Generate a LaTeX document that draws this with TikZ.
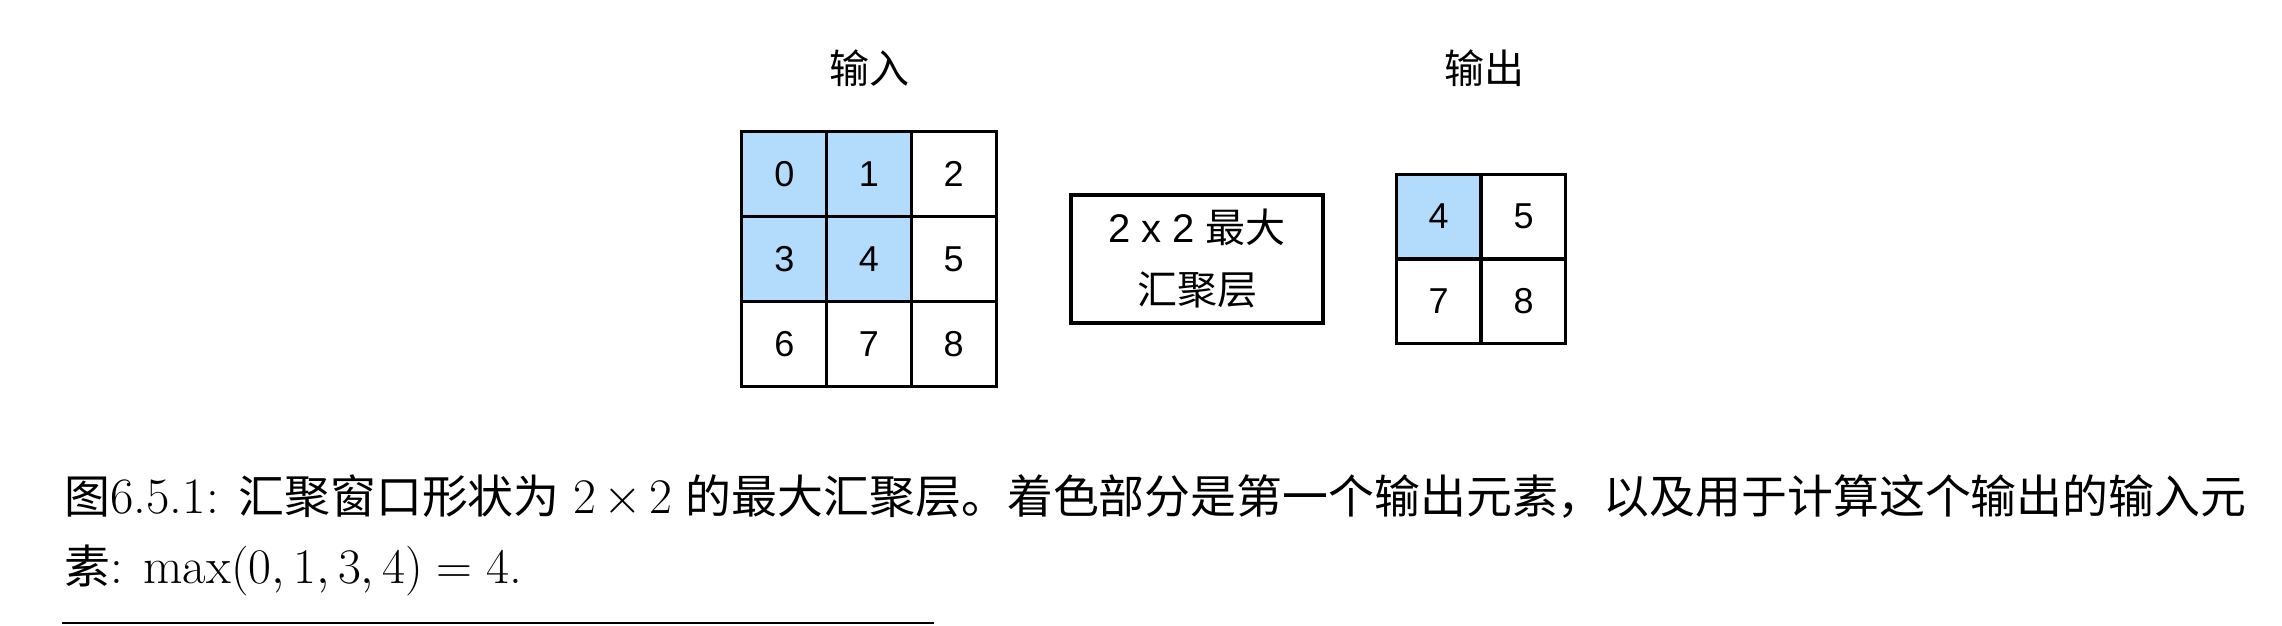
\documentclass[tikz,border=0pt]{standalone}
\usepackage{fontspec}
\newfontfamily\diagsans{Liberation Sans}
\newfontfamily\diagcjk{Noto Sans CJK SC}
\newfontfamily\capcjk{Noto Sans CJK SC}[Scale=0.9]
\definecolor{poolblue}{RGB}{179,219,251}
\tikzset{
  cell/.style={draw=black, line width=1.5pt, minimum size=42.4pt, inner sep=0pt, font=\diagsans\fontsize{18}{20}\selectfont},
  sel/.style={fill=poolblue},
  poolbox/.style={draw=black, line width=1.6pt, minimum width=126pt, minimum height=64pt, align=center, inner sep=0pt, font=\diagsans\fontsize{20}{31}\selectfont},
  heading/.style={font=\diagcjk\fontsize{20}{24}\selectfont},
  caption/.style={anchor=base west, inner sep=0pt, font=\fontsize{25.5}{30}\selectfont},
}
\begin{document}
\begin{tikzpicture}[x=0.5pt,y=-0.5pt]
\useasboundingbox (0,0) rectangle (2282,626);
% input 3x3
\node[cell,sel] (i0) at (784.3,174.3) {0};
\node[cell,sel] (i1) at (869,174.3) {1};
\node[cell] (i2) at (953.7,174.3) {2};
\node[cell,sel] (i3) at (784.3,259) {3};
\node[cell,sel] (i4) at (869,259) {4};
\node[cell] (i5) at (953.7,259) {5};
\node[cell] (i6) at (784.3,343.7) {6};
\node[cell] (i7) at (869,343.7) {7};
\node[cell] (i8) at (953.7,343.7) {8};
% output 2x2
\node[cell,sel] (o4) at (1438.5,216.5) {4};
\node[cell] (o5) at (1523.5,216.5) {5};
\node[cell] (o7) at (1438.5,301.5) {7};
\node[cell] (o8) at (1523.5,301.5) {8};
% pooling box
\node[poolbox] (pool) at (1197,259) {2 x 2 {\diagcjk 最大}\\ {\diagcjk 汇聚层}};
% headings
\node[heading] (inlab) at (869,68) {输入};
\node[heading] (outlab) at (1484,68) {输出};
% caption
\node[caption] (cap1) at (64,513) {\makebox[1091pt][s]{{\capcjk 图}6.5.1: {\capcjk 汇聚窗口形状为} $2\times 2$ {\capcjk 的最大汇聚层。着色部分是第一个输出元素，以及用于计算这个输出的输入元}}};
\node[caption] (cap2) at (64,583) {{\capcjk 素}: $\max(0,1,3,4)=4$.};
\coordinate (ruleA) at (62,623);
\coordinate (ruleB) at (934,623);
\draw[line width=1pt] (ruleA) -- (ruleB);
\end{tikzpicture}
\end{document}
